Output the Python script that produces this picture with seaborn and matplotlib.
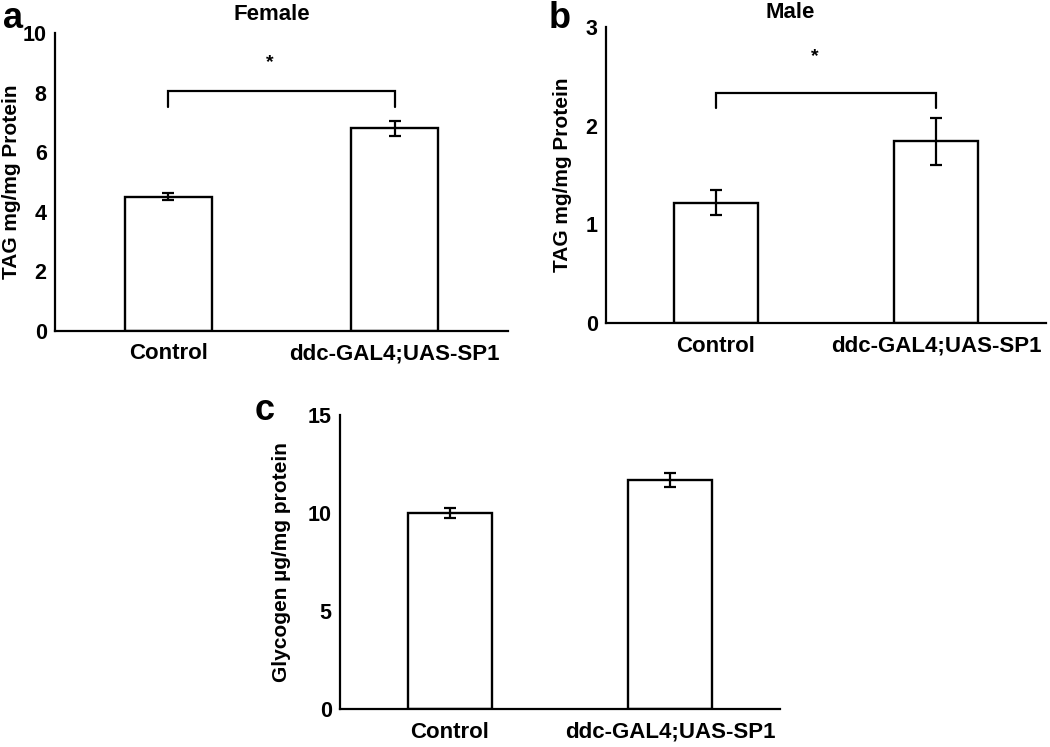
import matplotlib
matplotlib.use("Agg")
import matplotlib.pyplot as plt
import seaborn as sns
import pandas as pd

# ---- data ----
groups = ["Control", "ddc-GAL4;UAS-SP1"]
female_tag = [4.5, 6.8]
female_err = [0.12, 0.25]
male_tag = [1.22, 1.84]
male_err = [0.13, 0.24]
glycogen = [10.0, 11.7]
glycogen_err = [0.28, 0.35]

sns.set_theme(style="white")
plt.rcParams["font.family"] = ["Liberation Sans", "DejaVu Sans"]
plt.rcParams["font.weight"] = "bold"
plt.rcParams["text.color"] = "black"
plt.rcParams["axes.labelcolor"] = "black"
plt.rcParams["xtick.color"] = "black"
plt.rcParams["ytick.color"] = "black"

fig = plt.figure(figsize=(10.5, 7.47), dpi=100)
W, H = 1050.0, 747.0


def axes_px(left, right, top, bottom):
    return fig.add_axes([left / W, 1 - bottom / H, (right - left) / W, (bottom - top) / H])


def panel(ax, vals, errs, ymax, yticks, ylabel, labelx):
    df = pd.DataFrame({"group": groups, "value": vals})
    sns.barplot(data=df, x="group", y="value", ax=ax, width=0.385,
                color="white", edgecolor="black", linewidth=1.7, errorbar=None,
                saturation=1)
    for p in ax.patches:
        p.set_facecolor("white")
    ax.errorbar(range(len(vals)), vals, yerr=errs, fmt="none", ecolor="black",
                elinewidth=1.6, capsize=4.5, capthick=1.6)
    ax.set_xlim(-0.5, 1.5)
    ax.set_ylim(0, ymax)
    ax.set_yticks(yticks)
    ax.set_yticklabels([str(t) for t in yticks], fontsize=15.5, fontweight="bold")
    ax.set_xticks(range(len(groups)))
    ax.set_xticklabels(groups, fontsize=16, fontweight="bold")
    ax.set_xlabel("")
    ax.set_ylabel(ylabel, fontsize=15, fontweight="bold", color="black")
    ax.yaxis.set_label_coords(labelx, 0.5)
    for s in ["top", "right"]:
        ax.spines[s].set_visible(False)
    for s in ["left", "bottom"]:
        ax.spines[s].set_linewidth(1.6)
        ax.spines[s].set_color("black")
    ax.tick_params(axis="y", direction="in", length=4, width=1.4, pad=6,
                   colors="black", labelcolor="black")
    ax.tick_params(axis="x", length=0, pad=9, colors="black", labelcolor="black")
    ax.set_facecolor("white")


def bracket(ax, y, drop, star_y):
    ax.plot([0, 0, 1, 1], [y - drop, y, y, y - drop], color="black", lw=1.6,
            solid_joinstyle="miter")
    ax.text(0.45, star_y, "*", ha="center", va="center", fontsize=14,
            fontweight="bold", color="black")


# panel a
ax_a = axes_px(55, 508, 33, 331)
panel(ax_a, female_tag, female_err, 10, [0, 2, 4, 6, 8, 10], "TAG mg/mg Protein", -0.076)
bracket(ax_a, 8.05, 0.55, 9.0)

# panel b
ax_b = axes_px(606, 1046, 27, 323)
panel(ax_b, male_tag, male_err, 3, [0, 1, 2, 3], "TAG mg/mg Protein", -0.077)
bracket(ax_b, 2.33, 0.15, 2.70)

# panel c
ax_c = axes_px(340, 780, 415, 709)
panel(ax_c, glycogen, glycogen_err, 15, [0, 5, 10, 15], "Glycogen µg/mg protein", -0.111)

# titles and panel letters
fig.text(272 / W, 1 - 15 / H, "Female", ha="center", va="center", fontsize=16,
         fontweight="bold", color="black")
fig.text(790 / W, 1 - 12 / H, "Male", ha="center", va="center", fontsize=16,
         fontweight="bold", color="black")
fig.text(13 / W, 1 - 18 / H, "a", ha="center", va="center", fontsize=26,
         fontweight="bold", color="black")
fig.text(560 / W, 1 - 19 / H, "b", ha="center", va="center", fontsize=26,
         fontweight="bold", color="black")
fig.text(265 / W, 1 - 410 / H, "c", ha="center", va="center", fontsize=26,
         fontweight="bold", color="black")

fig.savefig("out.png", dpi=100, facecolor="white")
